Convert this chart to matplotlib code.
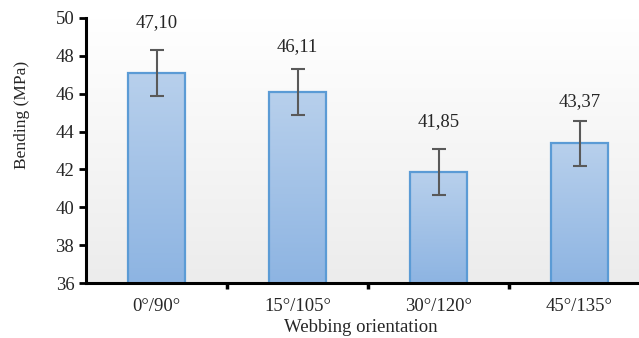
import numpy as np
import matplotlib.pyplot as plt
from matplotlib.colors import LinearSegmentedColormap

categories = ['0°/90°', '15°/105°', '30°/120°', '45°/135°']
bending = [47.10, 46.11, 41.85, 43.37]
errors = [1.21, 1.21, 1.21, 1.21]
value_labels = ['47,10', '46,11', '41,85', '43,37']
label_offsets = [20, 16, 20, 14]  # points from error bar top to label centre

plt.rcParams['font.family'] = ['Liberation Serif', 'DejaVu Serif']

fig = plt.figure(figsize=(6.39, 3.38), dpi=100)
ax = fig.add_axes([86/639, 55/338, 564/639, 265/338])

x = np.arange(len(categories))

# plot area gradient
bg = LinearSegmentedColormap.from_list('bg', ['#ffffff', '#ececec'])
ax.imshow(np.linspace(0, 1, 256).reshape(-1, 1), cmap=bg, aspect='auto',
          extent=(-0.5, 3.5, 36, 50), origin='upper', zorder=0)

bars = ax.bar(x, bending, width=0.4, color='none', edgecolor='#5b9bd5',
              linewidth=1.6, zorder=3)
bar_cmap = LinearSegmentedColormap.from_list('bar', ['#b8d0ec', '#8db4e2'])
for b in bars:
    x0, w, top = b.get_x(), b.get_width(), b.get_y() + b.get_height()
    ax.imshow(np.linspace(0, 1, 256).reshape(-1, 1), cmap=bar_cmap,
              aspect='auto', extent=(x0, x0 + w, 36, top),
              origin='upper', zorder=2)

ax.errorbar(x, bending, yerr=errors, fmt='none', ecolor='#595959',
            elinewidth=1.5, capsize=5, capthick=1.5, zorder=4)

for xi, v, e, lab, off in zip(x, bending, errors, value_labels, label_offsets):
    ax.annotate(lab, (xi, v + e), xytext=(0, off), textcoords='offset points',
                ha='center', va='center', fontsize=13.5, color='#262626')

ax.set_xlim(-0.5, 3.5)
ax.set_ylim(36, 50)
ax.set_yticks(np.arange(36, 51, 2))
ax.set_xticks([0.5, 1.5, 2.5])
ax.set_xticklabels([])
ax.set_xticks(x, minor=True)
ax.set_xticklabels(categories, minor=True)
ax.tick_params(axis='x', which='major', direction='out', length=4, width=2.5)
ax.tick_params(axis='x', which='minor', length=0, pad=11, labelsize=13.5,
               labelcolor='#262626')
ax.tick_params(axis='y', direction='out', length=5, width=2, labelsize=13.5,
               labelcolor='#262626')

for s in ['top', 'right']:
    ax.spines[s].set_visible(False)
for s in ['left', 'bottom']:
    ax.spines[s].set_linewidth(2.2)
    ax.spines[s].set_zorder(5)

ax.set_ylabel('Bending (MPa)', fontsize=12.5, color='#262626', va='center')
ax.yaxis.set_label_coords(-0.113, 0.635)
ax.set_xlabel('Webbing orientation', fontsize=13.5, color='#262626', va='center')
ax.xaxis.set_label_coords(0.487, -45/265)

fig.savefig('out.png', dpi=100)
